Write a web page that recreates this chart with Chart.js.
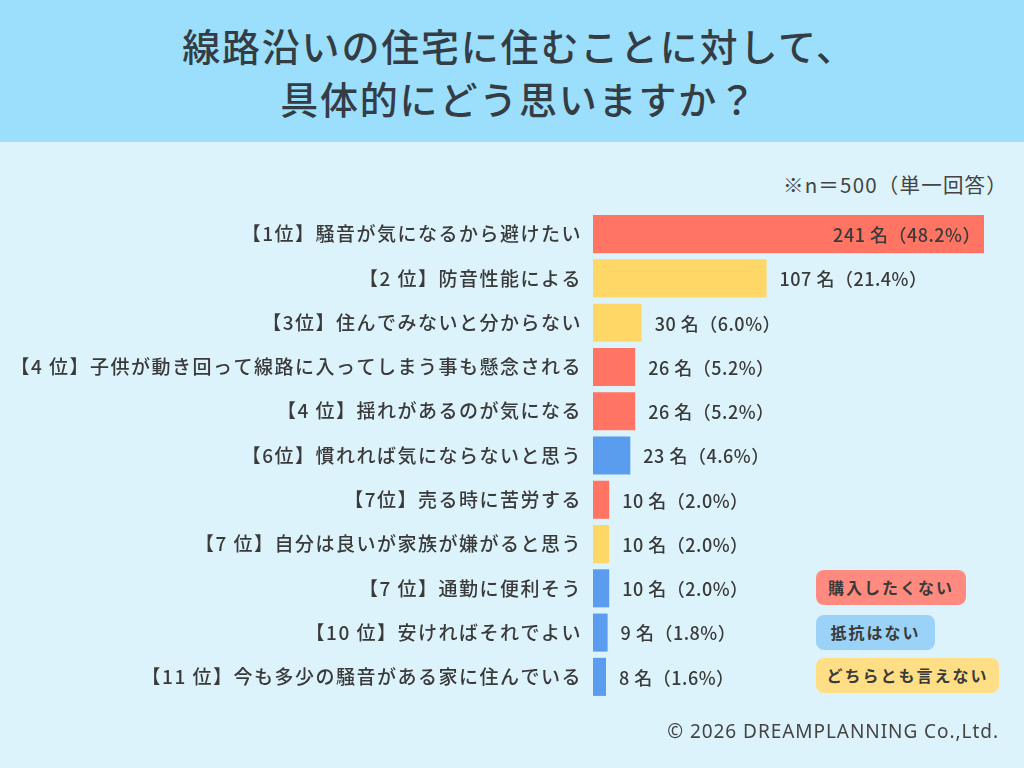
<!DOCTYPE html>
<html lang="ja">
<head>
<meta charset="utf-8">
<script src="https://cdn.jsdelivr.net/npm/chart.js@4.4.1/dist/chart.umd.min.js"></script>
<style>
  html, body { margin:0; padding:0; }
  body { width:1024px; height:768px; background:#DCF3FC; position:relative; overflow:hidden;
         font-family:"Noto Sans CJK JP","Noto Sans",sans-serif; color:#3a3a3a; }
  #header { position:absolute; left:0; top:0; width:1024px; height:142px; background:#9CDFFC; }
  #title { position:absolute; left:7px; top:18px; width:1024px; text-align:center; font-size:38px;
           line-height:53px; font-weight:500; color:#343c44; letter-spacing:1.8px; }
  #note { position:absolute; right:16px; top:169px; font-size:20.5px; color:#444; letter-spacing:1.2px; }
  #chart { position:absolute; left:0; top:0; }
  .lg { position:absolute; left:816px; height:35px; line-height:35px; border-radius:8px; text-align:center;
        font-size:16px; font-weight:700; color:#3a3a3a; letter-spacing:2px; }
  #copy { position:absolute; right:25px; top:718px; font-size:19px; color:#444; letter-spacing:0.95px;
          font-family:"Noto Sans","Open Sans",sans-serif; font-weight:400; }
</style>
</head>
<body>
<div id="header"></div>
<div id="title">線路沿いの住宅に住むことに対して、<br>具体的にどう思いますか？</div>
<div id="note">※n＝500（単一回答）</div>
<canvas id="chart" width="1024" height="768"></canvas>
<div class="lg" style="top:570px;width:150px;background:#FF8A80;">購入したくない</div>
<div class="lg" style="top:615px;width:119px;background:#9BD3F8;">抵抗はない</div>
<div class="lg" style="top:658px;width:183px;background:#FFDE85;">どちらとも言えない</div>
<div id="copy">© 2026 DREAMPLANNING Co.,Ltd.</div>
<script>
const categories = [
  "【1位】騒音が気になるから避けたい",
  "【2 位】防音性能による",
  "【3位】住んでみないと分からない",
  "【4 位】子供が動き回って線路に入ってしまう事も懸念される",
  "【4 位】揺れがあるのが気になる",
  "【6位】慣れれば気にならないと思う",
  "【7位】売る時に苦労する",
  "【7 位】自分は良いが家族が嫌がると思う",
  "【7 位】通勤に便利そう",
  "【10 位】安ければそれでよい",
  "【11 位】今も多少の騒音がある家に住んでいる"
];
const counts = [241, 107, 30, 26, 26, 23, 10, 10, 10, 9, 8];
const percents = ["48.2", "21.4", "6.0", "5.2", "5.2", "4.6", "2.0", "2.0", "2.0", "1.8", "1.6"];
// group: 0 = 購入したくない, 1 = 抵抗はない, 2 = どちらとも言えない
const groups = [0, 2, 2, 0, 0, 1, 0, 2, 1, 1, 1];
const groupNames = ["購入したくない", "抵抗はない", "どちらとも言えない"];
const groupBarColors = ["#FF7462", "#5A9CEE", "#FFD766"];

const FONT = '"Noto Sans CJK JP", "Noto Sans", sans-serif';

const spacingPlugin = {
  id: 'spacing',
  beforeDraw(chart) { chart.ctx.letterSpacing = '1.5px'; }
};

const valueLabels = {
  id: 'valueLabels',
  afterDatasetsDraw(chart) {
    const ctx = chart.ctx;
    const meta = chart.getDatasetMeta(0);
    ctx.save();
    ctx.letterSpacing = '0.5px';
    ctx.font = '500 18px ' + FONT;
    ctx.fillStyle = '#3a3a3a';
    ctx.textBaseline = 'middle';
    meta.data.forEach((bar, i) => {
      const txt = counts[i] + ' 名（' + percents[i] + '%）';
      if (i === 0) {
        ctx.textAlign = 'right';
        ctx.fillText(txt, bar.x - 3, bar.y + 1);
      } else {
        ctx.textAlign = 'left';
        ctx.fillText(txt, bar.x + 13, bar.y + 1);
      }
    });
    ctx.restore();
  }
};

new Chart(document.getElementById('chart'), {
  type: 'bar',
  data: {
    labels: categories,
    datasets: [{
      data: counts,
      backgroundColor: groups.map(g => groupBarColors[g]),
      borderWidth: 0,
      categoryPercentage: 1,
      barPercentage: 0.86
    }]
  },
  options: {
    indexAxis: 'y',
    responsive: false,
    animation: false,
    layout: { padding: { top: 212, bottom: 69, left: 0, right: 40 } },
    plugins: { legend: { display: false }, tooltip: { enabled: false } },
    scales: {
      x: { display: false, min: 0, max: 241 },
      y: {
        grid: { display: false, drawTicks: false },
        border: { display: false },
        ticks: { color: '#3a3a3a', padding: 11, font: { family: FONT, size: 19, weight: '500' } },
        afterFit(scale) { scale.width = 593; }
      }
    }
  },
  plugins: [spacingPlugin, valueLabels]
});
</script>
</body>
</html>
